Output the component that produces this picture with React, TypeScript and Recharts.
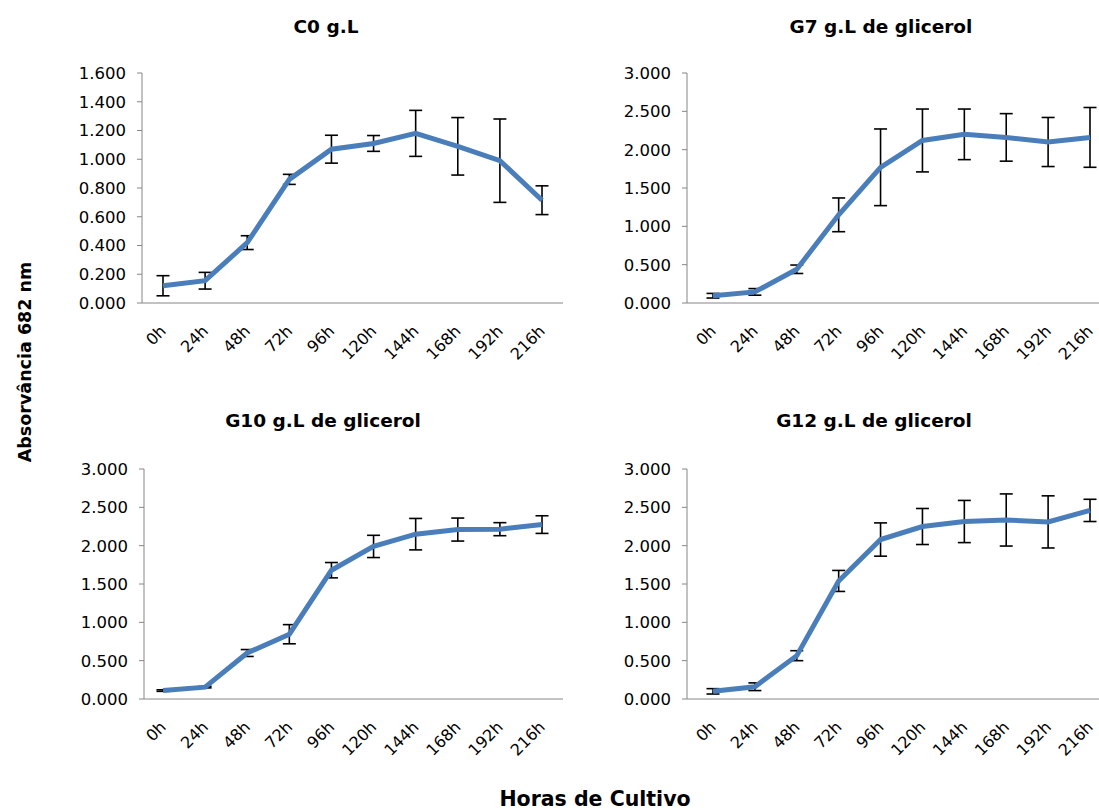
import React from 'react';
import { LineChart, Line, XAxis, YAxis, ErrorBar } from 'recharts';

// Sampling times (hours of culture)
const categories = ['0h', '24h', '48h', '72h', '96h', '120h', '144h', '168h', '192h', '216h'];

// Mean absorbance at 682 nm and standard deviation per condition
const c0Mean = [0.12, 0.155, 0.42, 0.86, 1.07, 1.11, 1.18, 1.09, 0.99, 0.715];
const c0Err = [0.07, 0.058, 0.048, 0.035, 0.097, 0.055, 0.16, 0.2, 0.29, 0.1];

const g7Mean = [0.095, 0.145, 0.44, 1.15, 1.77, 2.12, 2.2, 2.16, 2.1, 2.16];
const g7Err = [0.03, 0.043, 0.055, 0.22, 0.5, 0.41, 0.33, 0.31, 0.32, 0.39];

const g10Mean = [0.11, 0.155, 0.6, 0.845, 1.68, 1.99, 2.15, 2.21, 2.215, 2.275];
const g10Err = [0.01, 0.01, 0.045, 0.125, 0.1, 0.145, 0.205, 0.15, 0.085, 0.115];

const g12Mean = [0.1, 0.16, 0.565, 1.54, 2.08, 2.25, 2.315, 2.335, 2.31, 2.46];
const g12Err = [0.035, 0.05, 0.065, 0.137, 0.217, 0.235, 0.275, 0.34, 0.34, 0.145];

// Y axis ticks
const ticksC0 = [0, 0.2, 0.4, 0.6, 0.8, 1.0, 1.2, 1.4, 1.6];
const ticksG = [0, 0.5, 1.0, 1.5, 2.0, 2.5, 3.0];

const titles = ['C0 g.L', 'G7 g.L de glicerol', 'G10 g.L de glicerol', 'G12 g.L de glicerol'];
const yLabel = 'Absorvância 682 nm';
const xLabel = 'Horas de Cultivo';

const FONT = '"DejaVu Sans", sans-serif';
const LINE_COLOR = '#4a7ebb';
const AXIS_COLOR = '#868686';
const X_AXIS_H = 80;

const buildRows = (mean: number[], err: number[]) =>
  categories.map((c, i) => ({ time: c, value: mean[i], err: err[i] }));

const XTick = (props: any) => {
  const { x, y, payload } = props;
  const ax = x + 4;
  const ay = y + 29;
  return (
    <text
      x={ax}
      y={ay}
      transform={`rotate(-45 ${ax} ${ay})`}
      textAnchor="end"
      fontFamily={FONT}
      fontSize={16}
      fill="#000"
    >
      {payload.value}
    </text>
  );
};

type PanelProps = {
  left: number;
  top: number;
  width: number;
  plotBottom: number;
  marginTop: number;
  yWidth: number;
  padLeft: number;
  padRight: number;
  mean: number[];
  err: number[];
  domainMax: number;
  ticks: number[];
};

const Panel = (p: PanelProps) => (
  <div style={{ position: 'absolute', left: p.left, top: p.top }}>
    <LineChart
      width={p.width}
      height={p.plotBottom - p.top + X_AXIS_H}
      data={buildRows(p.mean, p.err)}
      margin={{ top: p.marginTop, right: 0, bottom: 0, left: 0 }}
    >
      <XAxis
        dataKey="time"
        height={X_AXIS_H}
        padding={{ left: p.padLeft, right: p.padRight }}
        stroke={AXIS_COLOR}
        tickLine={false}
        tickSize={0}
        tickMargin={0}
        interval={0}
        tick={<XTick />}
      />
      <YAxis
        width={p.yWidth}
        domain={[0, p.domainMax]}
        ticks={p.ticks}
        interval={0}
        stroke={AXIS_COLOR}
        tickSize={5}
        tickMargin={11}
        tickFormatter={(v: number) => v.toFixed(3)}
        tick={{ fill: '#000', fontFamily: FONT, fontSize: 16.5 }}
      />
      <Line
        type="linear"
        dataKey="value"
        stroke={LINE_COLOR}
        strokeWidth={5}
        dot={false}
        isAnimationActive={false}
      >
        <ErrorBar dataKey="err" width={6.5} stroke="#000" strokeWidth={1.6} direction="y" />
      </Line>
    </LineChart>
  </div>
);

export default function App() {
  return (
    <div
      style={{
        position: 'absolute',
        left: 0,
        top: 0,
        width: 1099,
        height: 810,
        background: '#fff',
        overflow: 'hidden',
      }}
    >
      <Panel left={58} top={60} width={505} plotBottom={303} marginTop={13} yWidth={84}
        padLeft={21} padRight={21} mean={c0Mean} err={c0Err} domainMax={1.6} ticks={ticksC0} />
      <Panel left={598} top={60} width={501} plotBottom={303} marginTop={13} yWidth={89}
        padLeft={26} padRight={9} mean={g7Mean} err={g7Err} domainMax={3} ticks={ticksG} />
      <Panel left={58} top={455} width={505} plotBottom={699} marginTop={14} yWidth={86}
        padLeft={19} padRight={21} mean={g10Mean} err={g10Err} domainMax={3} ticks={ticksG} />
      <Panel left={598} top={455} width={501} plotBottom={699} marginTop={14} yWidth={89}
        padLeft={26} padRight={9} mean={g12Mean} err={g12Err} domainMax={3} ticks={ticksG} />

      <svg width={1099} height={810} style={{ position: 'absolute', left: 0, top: 0, pointerEvents: 'none' }}>
        <g fontFamily={FONT} fontWeight="bold" fill="#000">
          <text x={326} y={33} textAnchor="middle" fontSize={18.5}>{titles[0]}</text>
          <text x={881} y={33} textAnchor="middle" fontSize={18.5}>{titles[1]}</text>
          <text x={323} y={427} textAnchor="middle" fontSize={18.5}>{titles[2]}</text>
          <text x={874} y={427} textAnchor="middle" fontSize={18.5}>{titles[3]}</text>
          <text x={31} y={362} textAnchor="middle" fontSize={17.5} transform="rotate(-90 31 362)">{yLabel}</text>
          <text x={595} y={806} textAnchor="middle" fontSize={20.5}>{xLabel}</text>
        </g>
      </svg>
    </div>
  );
}
